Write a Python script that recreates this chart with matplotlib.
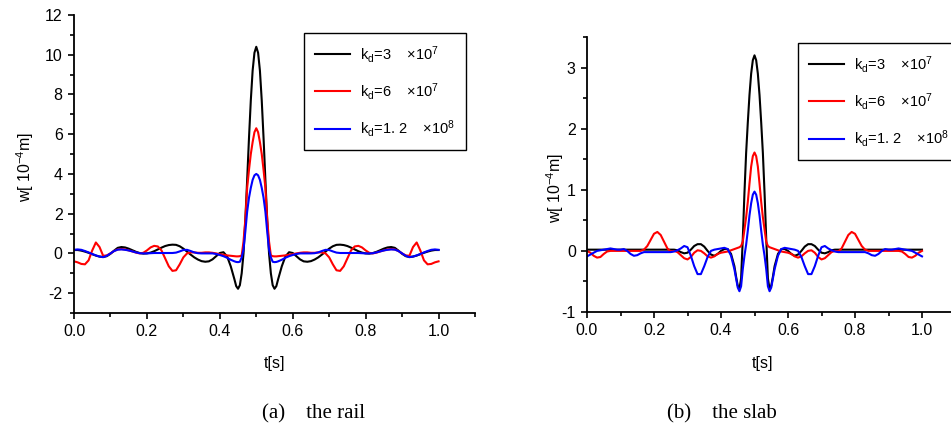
import matplotlib
matplotlib.use("Agg")
import matplotlib.pyplot as plt
from matplotlib.ticker import MultipleLocator

plt.rcParams['font.family'] = ['Liberation Sans', 'DejaVu Sans']
plt.rcParams['mathtext.fontset'] = 'custom'
plt.rcParams['mathtext.rm'] = 'Liberation Sans'
plt.rcParams['mathtext.it'] = 'Liberation Sans:italic'
plt.rcParams['mathtext.bf'] = 'Liberation Sans:bold'
plt.rcParams['mathtext.default'] = 'regular'
plt.rcParams['axes.unicode_minus'] = False

# ---------------- data ----------------
t = [0.00, 0.01, 0.02, 0.03, 0.04, 0.05, 0.06, 0.07, 0.08, 0.09,
     0.10, 0.11, 0.12, 0.13, 0.14, 0.15, 0.16, 0.17, 0.18, 0.19,
     0.20, 0.21, 0.22, 0.23, 0.24, 0.25, 0.26, 0.27, 0.28, 0.29,
     0.30, 0.31, 0.32, 0.33, 0.34, 0.35, 0.36, 0.37, 0.38, 0.39,
     0.40, 0.41, 0.42, 0.43, 0.44, 0.445, 0.45, 0.455, 0.46, 0.465,
     0.47, 0.475, 0.48, 0.485, 0.49, 0.495, 0.50,
     0.505, 0.51, 0.515, 0.52, 0.525, 0.53, 0.535, 0.54, 0.545, 0.55,
     0.555, 0.56, 0.57, 0.58, 0.59, 0.60, 0.61, 0.62, 0.63, 0.64,
     0.65, 0.66, 0.67, 0.68, 0.69, 0.70, 0.71, 0.72, 0.73, 0.74,
     0.75, 0.76, 0.77, 0.78, 0.79, 0.80, 0.81, 0.82, 0.83, 0.84,
     0.85, 0.86, 0.87, 0.88, 0.89, 0.90, 0.91, 0.92, 0.93, 0.94,
     0.95, 0.96, 0.97, 0.98, 0.99, 1.00]

labels = [r"k$_{d}$=3    ×10$^{7}$",
          r"k$_{d}$=6    ×10$^{7}$",
          r"k$_{d}$=1. 2    ×10$^{8}$"]
colors = ['black', 'red', 'blue']

# (a) the rail  -- displacement w [1e-4 m]
rail_k3 = [0.17, 0.17, 0.14, 0.09, 0.03, -0.04, -0.11, -0.16, -0.18, -0.14,
           -0.02, 0.14, 0.28, 0.32, 0.30, 0.24, 0.16, 0.08, 0.02, -0.01,
           0.00, 0.04, 0.11, 0.20, 0.29, 0.37, 0.42, 0.44, 0.43, 0.36,
           0.24, 0.09, -0.06, -0.20, -0.31, -0.39, -0.42, -0.40, -0.30, -0.14,
           0.02, 0.06, -0.15, -0.65, -1.30, -1.65, -1.78, -1.60, -1.00, 0.00,
           1.70, 3.70, 5.80, 7.70, 9.20, 10.10, 10.40,
           10.10, 9.20, 7.70, 5.80, 3.70, 1.70, 0.00, -1.00, -1.60, -1.78,
           -1.65, -1.30, -0.65, -0.15, 0.06, 0.02, -0.14, -0.30, -0.40, -0.42,
           -0.39, -0.31, -0.20, -0.06, 0.09, 0.24, 0.36, 0.43, 0.44, 0.42,
           0.37, 0.29, 0.20, 0.11, 0.04, 0.00, -0.01, 0.02, 0.08, 0.16,
           0.24, 0.30, 0.32, 0.28, 0.14, -0.02, -0.14, -0.18, -0.16, -0.11,
           -0.04, 0.03, 0.09, 0.14, 0.17, 0.17]
rail_k6 = [-0.40, -0.45, -0.53, -0.55, -0.35, 0.15, 0.55, 0.32, -0.12, -0.10,
           0.00, 0.12, 0.20, 0.22, 0.20, 0.15, 0.10, 0.04, 0.00, 0.03,
           0.15, 0.30, 0.38, 0.35, 0.15, -0.25, -0.65, -0.88, -0.85, -0.55,
           -0.20, 0.00, 0.05, 0.05, 0.03, 0.03, 0.05, 0.05, 0.03, 0.00,
           -0.04, -0.07, -0.10, -0.12, -0.14, -0.15, -0.15, -0.14, -0.10, 0.60,
           1.70, 3.30, 4.20, 5.00, 5.60, 6.10, 6.30,
           6.10, 5.60, 5.00, 4.20, 3.30, 1.70, 0.60, -0.10, -0.14, -0.15,
           -0.15, -0.14, -0.12, -0.10, -0.07, -0.04, 0.00, 0.03, 0.05, 0.05,
           0.03, 0.03, 0.05, 0.05, 0.00, -0.20, -0.55, -0.85, -0.88, -0.65,
           -0.25, 0.15, 0.35, 0.38, 0.30, 0.15, 0.03, 0.00, 0.04, 0.10,
           0.15, 0.20, 0.22, 0.20, 0.12, 0.00, -0.10, -0.12, 0.32, 0.55,
           0.15, -0.35, -0.55, -0.53, -0.45, -0.40]
rail_k12 = [0.18, 0.20, 0.18, 0.12, 0.05, -0.03, -0.10, -0.16, -0.19, -0.12,
            0.00, 0.12, 0.19, 0.20, 0.18, 0.15, 0.10, 0.05, 0.01, 0.00,
            0.00, 0.01, 0.02, 0.02, 0.02, 0.02, 0.02, 0.02, 0.04, 0.10,
            0.17, 0.18, 0.12, 0.05, 0.01, 0.00, 0.00, 0.00, 0.00, -0.03,
            -0.08, -0.14, -0.22, -0.32, -0.40, -0.43, -0.44, -0.42, -0.20, 0.20,
            1.10, 2.10, 2.80, 3.30, 3.70, 3.93, 4.00,
            3.93, 3.70, 3.30, 2.80, 2.10, 1.10, 0.20, -0.20, -0.42, -0.44,
            -0.43, -0.40, -0.32, -0.22, -0.14, -0.08, -0.03, 0.00, 0.00, 0.00,
            0.00, 0.01, 0.05, 0.12, 0.18, 0.17, 0.10, 0.04, 0.02, 0.02,
            0.02, 0.02, 0.02, 0.02, 0.01, 0.00, 0.00, 0.01, 0.05, 0.10,
            0.15, 0.18, 0.20, 0.19, 0.12, 0.00, -0.12, -0.19, -0.16, -0.10,
            -0.03, 0.05, 0.12, 0.18, 0.20, 0.18]

# (b) the slab
slab_k3 = [0.02, 0.02, 0.02, 0.02, 0.02, 0.02, 0.02, 0.02, 0.02, 0.02,
           0.02, 0.02, 0.02, 0.02, 0.02, 0.02, 0.02, 0.02, 0.02, 0.02,
           0.02, 0.02, 0.02, 0.02, 0.02, 0.02, 0.02, 0.01, -0.02, -0.04,
           -0.03, 0.02, 0.08, 0.11, 0.11, 0.07, 0.00, -0.06, -0.08, -0.05,
           0.00, 0.03, 0.03, -0.05, -0.25, -0.42, -0.57, -0.62, -0.45, 0.20,
           0.95, 1.60, 2.10, 2.55, 2.90, 3.12, 3.20,
           3.12, 2.90, 2.55, 2.10, 1.60, 0.95, 0.20, -0.45, -0.62, -0.57,
           -0.42, -0.25, -0.05, 0.03, 0.03, 0.00, -0.05, -0.08, -0.06, 0.00,
           0.07, 0.11, 0.11, 0.08, 0.02, -0.03, -0.04, -0.02, 0.01, 0.02,
           0.02, 0.02, 0.02, 0.02, 0.02, 0.02, 0.02, 0.02, 0.02, 0.02,
           0.02, 0.02, 0.02, 0.02, 0.02, 0.02, 0.02, 0.02, 0.02, 0.02,
           0.02, 0.02, 0.02, 0.02, 0.02, 0.02]
slab_k6 = [0.00, -0.03, -0.08, -0.11, -0.10, -0.05, -0.01, 0.00, 0.00, 0.00,
           0.00, 0.00, 0.00, 0.00, 0.00, 0.00, 0.00, 0.02, 0.08, 0.18,
           0.28, 0.31, 0.26, 0.15, 0.04, -0.01, 0.00, -0.02, -0.07, -0.12,
           -0.14, -0.10, -0.03, 0.01, 0.00, -0.04, -0.09, -0.11, -0.09, -0.05,
           -0.03, -0.02, -0.01, 0.01, 0.03, 0.04, 0.05, 0.06, 0.08, 0.15,
           0.35, 0.55, 0.80, 1.10, 1.38, 1.55, 1.61,
           1.55, 1.38, 1.10, 0.80, 0.55, 0.35, 0.15, 0.08, 0.06, 0.05,
           0.04, 0.03, 0.01, -0.01, -0.02, -0.03, -0.05, -0.09, -0.11, -0.09,
           -0.04, 0.00, 0.01, -0.03, -0.10, -0.14, -0.12, -0.07, -0.02, 0.00,
           -0.01, 0.04, 0.15, 0.26, 0.31, 0.28, 0.18, 0.08, 0.02, 0.00,
           0.00, 0.00, 0.00, 0.00, 0.00, 0.00, 0.00, 0.00, 0.00, -0.01,
           -0.05, -0.10, -0.11, -0.08, -0.03, 0.00]
slab_k12 = [-0.09, -0.06, -0.03, 0.00, 0.01, 0.02, 0.03, 0.04, 0.03, 0.02,
            0.02, 0.03, 0.00, -0.05, -0.08, -0.07, -0.04, -0.02, -0.02, -0.02,
            -0.02, -0.02, -0.02, -0.02, -0.02, -0.02, -0.01, 0.01, 0.04, 0.08,
            0.06, -0.08, -0.25, -0.38, -0.38, -0.25, -0.10, 0.00, 0.02, 0.03,
            0.04, 0.05, 0.03, -0.08, -0.30, -0.45, -0.60, -0.66, -0.58, -0.30,
            -0.08, 0.10, 0.33, 0.58, 0.78, 0.92, 0.97,
            0.92, 0.78, 0.58, 0.33, 0.10, -0.08, -0.30, -0.58, -0.66, -0.60,
            -0.45, -0.30, -0.08, 0.03, 0.05, 0.04, 0.03, 0.02, 0.00, -0.10,
            -0.25, -0.38, -0.38, -0.25, -0.08, 0.06, 0.08, 0.04, 0.01, -0.01,
            -0.02, -0.02, -0.02, -0.02, -0.02, -0.02, -0.02, -0.02, -0.02, -0.04,
            -0.07, -0.08, -0.05, 0.00, 0.03, 0.02, 0.02, 0.03, 0.04, 0.03,
            0.02, 0.01, 0.00, -0.03, -0.06, -0.09]

rail_series = [rail_k3, rail_k6, rail_k12]
slab_series = [slab_k3, slab_k6, slab_k12]

# ---------------- figure ----------------
W, H = 951, 428
fig = plt.figure(figsize=(W / 100, H / 100), dpi=100)

def px_axes(x0, x1, ytop, ybot):
    return fig.add_axes([x0 / W, 1 - ybot / H, (x1 - x0) / W, (ybot - ytop) / H])

ax1 = px_axes(74, 475, 15, 313)
ax2 = px_axes(587, 955.5, 37, 312)

def style(ax, ylim, ymaj, ymin):
    ax.set_xlim(0, 1.1)
    ax.set_ylim(*ylim)
    for s in ['top', 'right']:
        ax.spines[s].set_visible(False)
    for s in ['left', 'bottom']:
        ax.spines[s].set_linewidth(1.3)
    ax.xaxis.set_major_locator(MultipleLocator(0.2))
    ax.xaxis.set_minor_locator(MultipleLocator(0.1))
    ax.yaxis.set_major_locator(MultipleLocator(ymaj))
    ax.yaxis.set_minor_locator(MultipleLocator(ymin))
    ax.tick_params(which='major', direction='out', length=4.6, width=1.2,
                   labelsize=11.5, pad=3.5)
    ax.tick_params(which='minor', direction='out', length=2.6, width=1.2)
    ax.set_xticks([0.0, 0.2, 0.4, 0.6, 0.8, 1.0])
    ax.set_xticklabels(['0.0', '0.2', '0.4', '0.6', '0.8', '1.0'])

style(ax1, (-3, 12), 2, 1)
ax1.set_yticks([-2, 0, 2, 4, 6, 8, 10, 12])
ax1.set_yticklabels(['-2', '0', '2', '4', '6', '8', '10', '12'])
style(ax2, (-1, 3.5), 1, 0.5)
ax2.set_yticks([-1, 0, 1, 2, 3])
ax2.set_yticklabels(['-1', '0', '1', '2', '3'])

for ax, series in [(ax1, rail_series), (ax2, slab_series)]:
    for vals, c, lab in zip(series, colors, labels):
        ax.plot(t, vals, color=c, lw=1.5, label=lab, solid_joinstyle='round')

for ax in (ax1, ax2):
    ax.set_xlabel('t[s]', fontsize=11.5)
    ax.set_ylabel(r'w[ 10$^{-4}$m]', fontsize=11.5)

ax1.xaxis.set_label_coords(0.5, -0.144)
ax1.yaxis.set_label_coords(-0.095, 0.49)
ax2.xaxis.set_label_coords(175.0 / 368.5, -0.16)
ax2.yaxis.set_label_coords(-0.057, 0.451)

leg_kw = dict(loc='upper left', bbox_transform=fig.transFigure, borderaxespad=0,
              fontsize=10.5, labelspacing=1.1, handlelength=2.4,
              handletextpad=0.7, borderpad=0.75, fancybox=False,
              edgecolor='black', framealpha=1)
l1 = ax1.legend(bbox_to_anchor=(304 / W, 1 - 33 / H), **leg_kw)
l2 = ax2.legend(bbox_to_anchor=(798 / W, 1 - 43 / H), **leg_kw)
for l in (l1, l2):
    l.get_frame().set_linewidth(1.0)
    for h in l.get_lines():
        h.set_linewidth(1.5)

fig.text(314 / W, 1 - 414 / H, '(a)    the rail', ha='center', va='center',
         fontsize=15, family='Liberation Serif')
fig.text(722 / W, 1 - 414 / H, '(b)    the slab', ha='center', va='center',
         fontsize=15, family='Liberation Serif')

fig.savefig('out.png', dpi=100)
